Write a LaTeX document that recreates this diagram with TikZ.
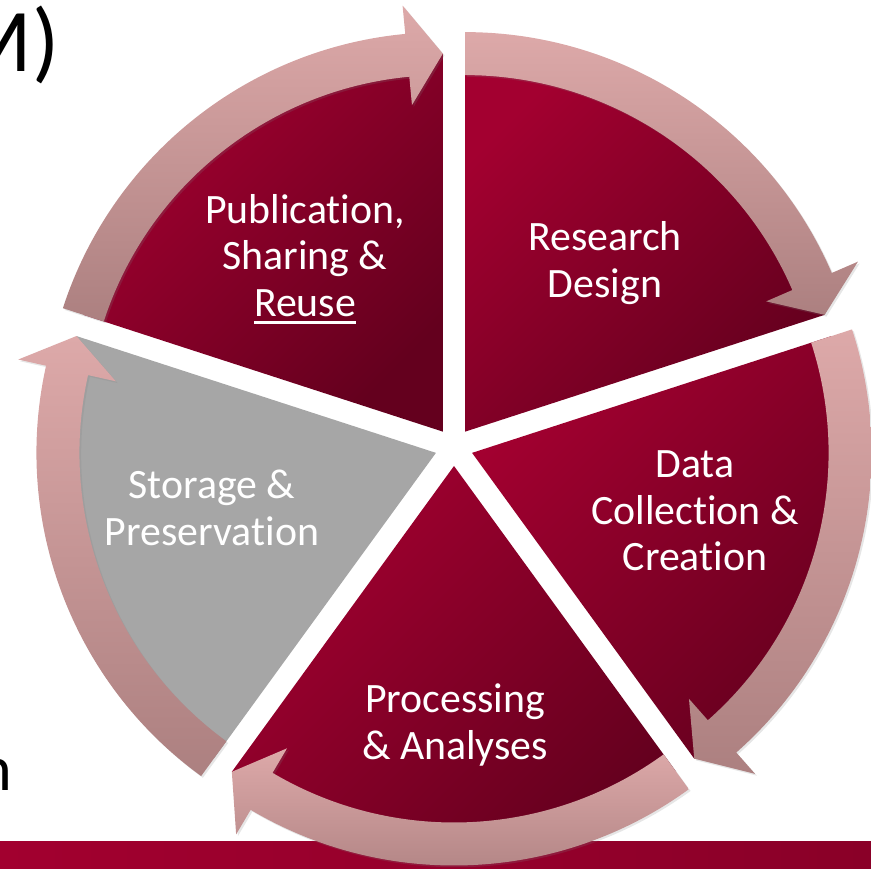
\documentclass[tikz,border=0pt]{standalone}
\usepackage{fontspec}
\setmainfont{Carlito}[Ligatures=NoCommon]
\usepackage{xcolor}
\usepackage{tikz}
\usetikzlibrary{shadows}

\definecolor{wdglt}{RGB}{163,0,48}
\definecolor{wdgdk}{RGB}{100,0,30}
\definecolor{bandlt}{RGB}{221,169,169}
\definecolor{banddk}{RGB}{172,128,128}
\definecolor{strgray}{RGB}{166,166,166}
\definecolor{barlt}{RGB}{162,0,47}
\definecolor{bardk}{RGB}{138,0,40}

\newcommand{\uword}[1]{\setbox0\hbox{#1}\rlap{\rule[-4pt]{\wd0}{1.6pt}}\box0}

\begin{document}
\begin{tikzpicture}[
  x=0.02cm, y=0.02cm,
  wdg/.style={top color=wdglt, bottom color=wdgdk, shading angle=45},
  band/.style={top color=bandlt, bottom color=banddk,
    drop shadow={opacity=0.2, shadow xshift=1pt, shadow yshift=-1pt}},
  lbl/.style={text=white, align=center, font=\fontsize{23.8}{26.6}\selectfont},
]

\useasboundingbox (0,0) rectangle (871,868);

\shade [left color=barlt, right color=bardk] (0,0) rectangle (871,27);

\node [anchor=base east, inner sep=0, font=\fontsize{51}{60}\selectfont] (ttl) at (60,796) {M)};
\node [anchor=base east, inner sep=0, font=\fontsize{36.5}{44}\selectfont] (txt) at (13,78) {n};

\begin{scope}[shift={(454,421)}]

\begin{scope}[shift={(54:19)}]
\shade [wdg] (0,0) -- (18:378) arc [start angle=18, end angle=90, radius=378] -- cycle;
\shade [band] (90:399.5) arc [start angle=90, end angle=23.4, radius=399.5]
  -- (23.4:428) -- (18:378) -- (23.4:328) -- (23.4:356.5)
  arc [start angle=23.4, end angle=90, radius=356.5] -- cycle;
\end{scope}

\begin{scope}[shift={(-18:19)}]
\shade [wdg] (0,0) -- (-54:378) arc [start angle=-54, end angle=18, radius=378] -- cycle;
\shade [band] (18:399.5) arc [start angle=18, end angle=-48.6, radius=399.5]
  -- (-48.6:428) -- (-54:378) -- (-48.6:328) -- (-48.6:356.5)
  arc [start angle=-48.6, end angle=18, radius=356.5] -- cycle;
\end{scope}

\begin{scope}[shift={(270:19)}]
\shade [wdg] (0,0) -- (234:378) arc [start angle=234, end angle=306, radius=378] -- cycle;
\shade [band] (306:399.5) arc [start angle=306, end angle=239.4, radius=399.5]
  -- (239.4:428) -- (234:378) -- (239.4:328) -- (239.4:356.5)
  arc [start angle=239.4, end angle=306, radius=356.5] -- cycle;
\end{scope}

\begin{scope}[shift={(198:19)}]
\fill [strgray] (0,0) -- (162:378) arc [start angle=162, end angle=234, radius=378] -- cycle;
\shade [band] (234:399.5) arc [start angle=234, end angle=167.4, radius=399.5]
  -- (167.4:428) -- (162:378) -- (167.4:328) -- (167.4:356.5)
  arc [start angle=167.4, end angle=234, radius=356.5] -- cycle;
\end{scope}

\begin{scope}[shift={(126:19)}]
\shade [wdg] (0,0) -- (90:378) arc [start angle=90, end angle=162, radius=378] -- cycle;
\shade [band] (162:399.5) arc [start angle=162, end angle=95.4, radius=399.5]
  -- (95.4:428) -- (90:378) -- (95.4:328) -- (95.4:356.5)
  arc [start angle=95.4, end angle=162, radius=356.5] -- cycle;
\end{scope}

\end{scope}

\node [lbl] (rd) at (605,605) {Research\\Design};
\node [lbl] (dcc) at (695,357) {Data\\Collection \&\\Creation};
\node [lbl] (pa) at (455,143) {Processing\\\& Analyses};
\node [lbl] (sp) at (212,360) {Storage \&\\Preservation};
\node [lbl] (psr) at (305,609) {Publication,\\Sharing \&\\\uword{Reuse}};

\end{tikzpicture}
\end{document}
